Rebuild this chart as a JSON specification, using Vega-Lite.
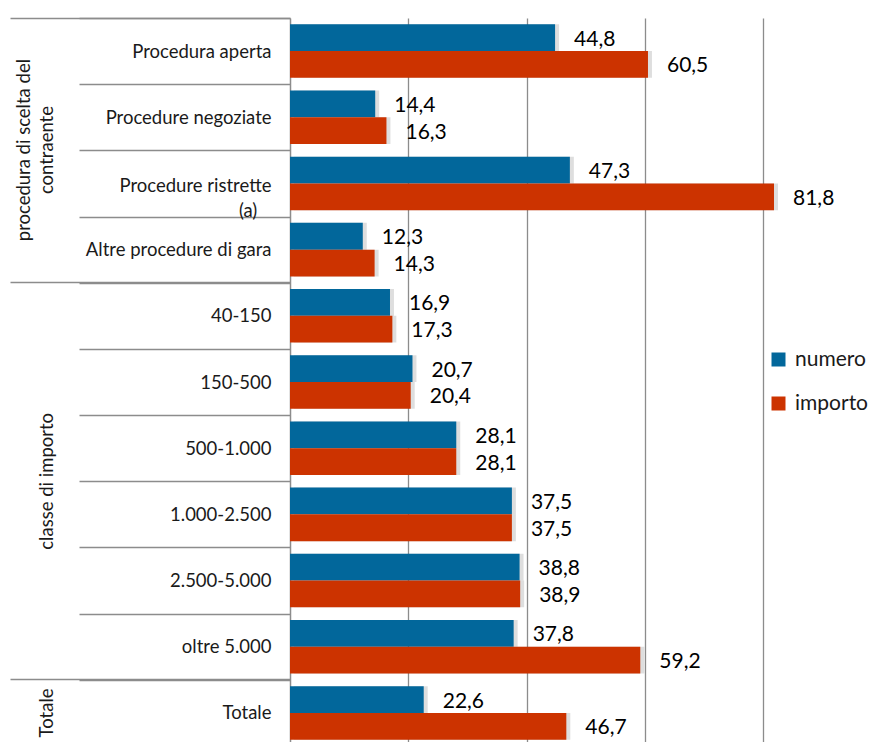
{
  "$schema": "https://vega.github.io/schema/vega-lite/v6.json",
  "width": 584,
  "height": 724,
  "autosize": {"type": "none"},
  "padding": {"left": 290, "top": 18, "right": 0, "bottom": 0},
  "background": "white",
  "config": {
    "view": {"stroke": null},
    "font": "Lato",
    "locale": {"number": {"decimal": ",", "thousands": ".", "grouping": [3], "currency": ["", " €"]}}
  },
  "data": {
    "values": [
      {"categoria": "Procedura aperta", "serie": "numero", "valore": 44.8},
      {"categoria": "Procedura aperta", "serie": "importo", "valore": 60.5},
      {"categoria": "Procedure negoziate", "serie": "numero", "valore": 14.4},
      {"categoria": "Procedure negoziate", "serie": "importo", "valore": 16.3},
      {"categoria": "Procedure ristrette (a)", "serie": "numero", "valore": 47.3},
      {"categoria": "Procedure ristrette (a)", "serie": "importo", "valore": 81.8},
      {"categoria": "Altre procedure di gara", "serie": "numero", "valore": 12.3},
      {"categoria": "Altre procedure di gara", "serie": "importo", "valore": 14.3},
      {"categoria": "40-150", "serie": "numero", "valore": 16.9},
      {"categoria": "40-150", "serie": "importo", "valore": 17.3},
      {"categoria": "150-500", "serie": "numero", "valore": 20.7},
      {"categoria": "150-500", "serie": "importo", "valore": 20.4},
      {"categoria": "500-1.000", "serie": "numero", "valore": 28.1},
      {"categoria": "500-1.000", "serie": "importo", "valore": 28.1},
      {"categoria": "1.000-2.500", "serie": "numero", "valore": 37.5},
      {"categoria": "1.000-2.500", "serie": "importo", "valore": 37.5},
      {"categoria": "2.500-5.000", "serie": "numero", "valore": 38.8},
      {"categoria": "2.500-5.000", "serie": "importo", "valore": 38.9},
      {"categoria": "oltre 5.000", "serie": "numero", "valore": 37.8},
      {"categoria": "oltre 5.000", "serie": "importo", "valore": 59.2},
      {"categoria": "Totale", "serie": "numero", "valore": 22.6},
      {"categoria": "Totale", "serie": "importo", "valore": 46.7}
    ]
  },
  "layer": [
    {
      "mark": {"type": "bar", "color": "#000000", "opacity": 0.13, "xOffset": 4},
      "encoding": {
        "y": {
          "field": "categoria", "type": "nominal", "sort": null,
          "scale": {"range": [0, 728], "paddingInner": 0, "paddingOuter": 0},
          "axis": null
        },
        "x": {
          "field": "valore", "type": "quantitative",
          "scale": {"domain": [0, 98.7], "nice": false}
        },
        "yOffset": {
          "field": "serie", "type": "nominal", "sort": ["numero", "importo"],
          "scale": {"paddingInner": 0, "paddingOuter": 0.236}
        }
      }
    },
    {
      "mark": {"type": "bar"},
      "encoding": {
        "y": {
          "field": "categoria", "type": "nominal", "sort": null,
          "axis": {
            "orient": "left", "title": null,
            "tickBand": "extent", "tickSize": 211, "tickColor": "#8c8c8c", "tickWidth": 1.5,
            "domainColor": "#8c8c8c", "domainWidth": 1.5,
            "labelPadding": -192, "labelFontSize": 18.5, "labelColor": "#1a1a1a",
            "labelAlign": "right", "labelBaseline": "middle", "labelLimit": 400,
            "labelLineHeight": 25,
            "labelExpr": "datum.value == 'Procedure ristrette (a)' ? ['Procedure ristrette', '(a)\u00a0\u00a0\u00a0\u200b'] : datum.label",
            "labelOffset": {"condition": {"test": "datum.value == 'Procedure ristrette (a)'", "value": 2}, "value": 0}
          }
        },
        "x": {
          "field": "valore", "type": "quantitative",
          "axis": {
            "orient": "top", "title": null, "values": [20, 40, 60, 80],
            "labels": false, "ticks": false, "domain": false,
            "grid": true, "gridColor": "#8c8c8c", "gridWidth": 1.3
          }
        },
        "yOffset": {"field": "serie", "type": "nominal", "sort": ["numero", "importo"]},
        "color": {
          "field": "serie", "type": "nominal", "sort": ["numero", "importo"],
          "scale": {"domain": ["numero", "importo"], "range": ["#02679B", "#CC3300"]},
          "legend": {
            "title": null, "orient": "none", "legendX": 478, "legendY": 331,
            "symbolType": "square", "symbolSize": 196, "symbolStrokeWidth": 0,
            "labelFontSize": 21, "labelColor": "#1a1a1a", "labelOffset": 6,
            "rowPadding": 22, "padding": 0
          }
        }
      }
    },
    {
      "mark": {"type": "text", "align": "left", "baseline": "middle", "dx": 19, "dy": 2, "fontSize": 21, "color": "#000000"},
      "encoding": {
        "y": {
          "field": "categoria", "type": "nominal", "sort": null,
          "axis": {
            "orient": "left", "title": null, "domain": false,
            "values": ["Procedura aperta", "40-150", "Totale"],
            "bandPosition": 0, "tickSize": 280, "tickColor": "#8c8c8c", "tickWidth": 1.5,
            "labelAngle": -90, "labelAlign": "center", "labelBaseline": "bottom",
            "labelFontSize": 18.5, "labelColor": "#1a1a1a",
            "labelLimit": 400, "labelLineHeight": 23,
            "labelExpr": "datum.value == 'Procedura aperta' ? ['procedura di scelta del', 'contraente'] : (datum.value == '40-150' ? 'classe di importo' : 'Totale')",
            "labelPadding": {"condition": {"test": "datum.value == 'Procedura aperta'", "value": -23}, "value": -46},
            "labelOffset": {"condition": [
              {"test": "datum.value == 'Procedura aperta'", "value": 99},
              {"test": "datum.value == '40-150'", "value": 165.5}
            ], "value": 0}
          }
        },
        "x": {"field": "valore", "type": "quantitative"},
        "yOffset": {"field": "serie", "type": "nominal", "sort": ["numero", "importo"]},
        "text": {"field": "valore", "type": "quantitative", "format": ".1f"}
      }
    }
  ],
  "resolve": {"axis": {"y": "independent"}}
}
